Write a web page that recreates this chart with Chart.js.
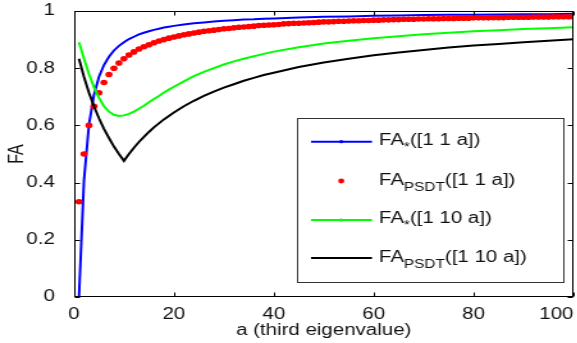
<!DOCTYPE html>
<html lang="en">
<head>
    <meta charset="utf-8">
    <title>FA vs third eigenvalue</title>
    <script src="https://cdn.jsdelivr.net/npm/chart.js"></script>
    <style>
        body { margin: 0; overflow: hidden; background: #fff; }
        /* the source figure is stretched sideways, so the whole canvas is too */
        #wrap { width: 452px; height: 343px; transform: scaleX(1.28); transform-origin: 0 0; }
    </style>
</head>
<body>
<div id="wrap">
    <canvas id="faChart" width="452" height="343"></canvas>
</div>

<script>
    // a values for the red point series (one per integer)
    const aPoints = [1, 2, 3, 4, 5, 6, 7, 8, 9, 10, 11, 12, 13, 14, 15, 16, 17, 18, 19, 20,
        21, 22, 23, 24, 25, 26, 27, 28, 29, 30, 31, 32, 33, 34, 35, 36, 37, 38, 39, 40,
        41, 42, 43, 44, 45, 46, 47, 48, 49, 50, 51, 52, 53, 54, 55, 56, 57, 58, 59, 60,
        61, 62, 63, 64, 65, 66, 67, 68, 69, 70, 71, 72, 73, 74, 75, 76, 77, 78, 79, 80,
        81, 82, 83, 84, 85, 86, 87, 88, 89, 90, 91, 92, 93, 94, 95, 96, 97, 98, 99, 100]
    const faPsdt11 = [0.333, 0.5, 0.6, 0.667, 0.714, 0.75, 0.778, 0.8, 0.818, 0.833,
        0.846, 0.857, 0.867, 0.875, 0.882, 0.889, 0.895, 0.9, 0.905, 0.909,
        0.913, 0.917, 0.92, 0.923, 0.926, 0.929, 0.931, 0.933, 0.935, 0.938,
        0.939, 0.941, 0.943, 0.944, 0.946, 0.947, 0.949, 0.95, 0.951, 0.952,
        0.953, 0.955, 0.956, 0.957, 0.957, 0.958, 0.959, 0.96, 0.961, 0.962,
        0.962, 0.963, 0.964, 0.964, 0.965, 0.966, 0.966, 0.967, 0.967, 0.968,
        0.968, 0.969, 0.969, 0.97, 0.97, 0.971, 0.971, 0.971, 0.972, 0.972,
        0.973, 0.973, 0.973, 0.974, 0.974, 0.974, 0.975, 0.975, 0.975, 0.976,
        0.976, 0.976, 0.976, 0.977, 0.977, 0.977, 0.978, 0.978, 0.978, 0.978,
        0.978, 0.979, 0.979, 0.979, 0.979, 0.98, 0.98, 0.98, 0.98, 0.98]

    // a values for the three solid lines
    const aLines = [1, 2, 3, 4, 5, 6, 7, 8, 9, 10, 11, 12, 13, 14, 15, 16, 17, 18, 19, 20,
        22, 24, 26, 28, 30, 32, 34, 36, 38, 40,
        45, 50, 55, 60, 65, 70, 75, 80, 85, 90, 95, 100]
    const faStar11 = [0, 0.408, 0.603, 0.707, 0.77, 0.811, 0.84, 0.862, 0.878, 0.891,
        0.902, 0.91, 0.918, 0.924, 0.929, 0.934, 0.938, 0.942, 0.945, 0.948,
        0.953, 0.957, 0.96, 0.963, 0.966, 0.968, 0.97, 0.971, 0.973, 0.974,
        0.977, 0.98, 0.981, 0.983, 0.984, 0.986, 0.987, 0.987, 0.988, 0.989, 0.989, 0.99]
    const faStar110 = [0.891, 0.834, 0.78, 0.734, 0.696, 0.667, 0.648, 0.637, 0.633, 0.635,
        0.64, 0.648, 0.658, 0.669, 0.681, 0.692, 0.703, 0.715, 0.725, 0.735,
        0.754, 0.772, 0.787, 0.8, 0.813, 0.824, 0.833, 0.842, 0.85, 0.858,
        0.873, 0.886, 0.896, 0.905, 0.912, 0.919, 0.924, 0.929, 0.933, 0.937, 0.94, 0.943]
    const faPsdt110 = [0.833, 0.769, 0.714, 0.667, 0.625, 0.588, 0.556, 0.526, 0.5, 0.476,
        0.5, 0.522, 0.542, 0.56, 0.577, 0.593, 0.607, 0.621, 0.633, 0.645,
        0.667, 0.686, 0.703, 0.718, 0.732, 0.744, 0.756, 0.766, 0.776, 0.784,
        0.804, 0.82, 0.833, 0.845, 0.855, 0.864, 0.872, 0.879, 0.885, 0.891, 0.896, 0.901]

    const xTicks = [0, 20, 40, 60, 80, 100]
    const yTicks = [0, 0.2, 0.4, 0.6, 0.8, 1]
    const legendSubs = ['*', 'PSDT', '*', 'PSDT']
    const legendArgs = ['([1 1 a])', '([1 1 a])', '([1 10 a])', '([1 10 a])']
    const seriesColors = ['#0000ff', '#ff0000', '#00ff00', '#000000']

    const FONT = '"Liberation Sans", Arial, sans-serif'
    Chart.defaults.font.family = FONT
    Chart.defaults.font.size = 16
    Chart.defaults.color = '#111'

    function pairs(xs, ys) {
        return xs.map((x, i) => ({x: x, y: ys[i]}))
    }

    // box, inward ticks on all four sides, and the legend
    const matlabFrame = {
        id: 'matlabFrame',
        afterDraw(chart) {
            const ctx = chart.ctx
            const area = chart.chartArea
            const xs = chart.scales.x
            const ys = chart.scales.y
            const L = Math.round(area.left) + 0.5, R = Math.round(area.right) - 0.5
            const T = Math.round(area.top) + 0.5, B = Math.round(area.bottom) - 0.5
            ctx.save()
            ctx.strokeStyle = '#000'
            ctx.lineWidth = 1
            ctx.strokeRect(L, T, R - L, B - T)
            ctx.beginPath()
            xTicks.forEach(v => {
                const px = Math.round(xs.getPixelForValue(v)) + 0.5
                ctx.moveTo(px, B); ctx.lineTo(px, B - 4)
                ctx.moveTo(px, T); ctx.lineTo(px, T + 4)
            })
            yTicks.forEach(v => {
                const py = Math.round(ys.getPixelForValue(v)) + 0.5
                ctx.moveTo(L, py); ctx.lineTo(L + 4, py)
                ctx.moveTo(R, py); ctx.lineTo(R - 4, py)
            })
            ctx.stroke()

            // legend
            ctx.fillStyle = '#fff'
            ctx.fillRect(233, 119, 208, 164)
            ctx.strokeStyle = '#333'
            ctx.strokeRect(232.5, 118.5, 208, 164)
            const lineY = [141.7, 181, 220, 258]
            const textY = [145, 184.5, 222.5, 261.5]
            for (let i = 0; i < 4; i++) {
                const c = seriesColors[i]
                if (i !== 1) {
                    ctx.strokeStyle = c
                    ctx.lineWidth = 2
                    ctx.beginPath()
                    ctx.moveTo(243, lineY[i]); ctx.lineTo(290.6, lineY[i])
                    ctx.stroke()
                }
                if (i !== 3) {
                    ctx.fillStyle = c
                    ctx.beginPath()
                    ctx.arc(266.6, lineY[i], i === 1 ? 2.4 : 1.6, 0, Math.PI * 2)
                    ctx.fill()
                }
                ctx.fillStyle = '#111'
                ctx.textBaseline = 'alphabetic'
                ctx.textAlign = 'left'
                let x = 296
                ctx.font = '16px ' + FONT
                ctx.fillText('FA', x, textY[i])
                x += ctx.measureText('FA').width
                ctx.font = '12px ' + FONT
                ctx.fillText(legendSubs[i], x, textY[i] + 6)
                x += ctx.measureText(legendSubs[i]).width
                ctx.font = '16px ' + FONT
                ctx.fillText(legendArgs[i], x, textY[i])
            }
            ctx.restore()
        }
    }

    new Chart(document.getElementById('faChart'), {
        type: 'line',
        data: {
            datasets: [{
                label: 'FA*([1 1 a])',
                data: pairs(aLines, faStar11),
                borderColor: seriesColors[0],
                borderWidth: 2,
                pointRadius: 0,
                order: 4
            }, {
                label: 'FA_PSDT([1 1 a])',
                data: pairs(aPoints, faPsdt11),
                showLine: false,
                pointStyle: 'circle',
                pointRadius: 2.8,
                pointBorderWidth: 0,
                pointBackgroundColor: seriesColors[1],
                borderColor: seriesColors[1],
                order: 3
            }, {
                label: 'FA*([1 10 a])',
                data: pairs(aLines, faStar110),
                borderColor: seriesColors[2],
                borderWidth: 2,
                pointRadius: 0,
                order: 2
            }, {
                label: 'FA_PSDT([1 10 a])',
                data: pairs(aLines, faPsdt110),
                borderColor: seriesColors[3],
                borderWidth: 2,
                pointRadius: 0,
                order: 1
            }]
        },
        options: {
            responsive: false,
            animation: false,
            events: [],
            layout: {padding: {left: 0, top: 11, right: 2, bottom: 0}},
            plugins: {legend: {display: false}, tooltip: {enabled: false}},
            scales: {
                x: {
                    type: 'linear',
                    min: 0,
                    max: 100,
                    grid: {display: false},
                    border: {display: false},
                    ticks: {
                        stepSize: 20,
                        padding: 0,
                        // the last label sits left of its tick in the source
                        callback: v => v === 100 ? '100\u2007\u2007\u2007' : String(v)
                    },
                    title: {display: true, text: 'a (third eigenvalue)', padding: {top: 0, bottom: 3}},
                    afterFit(scale) {
                        scale.height = 46
                        scale.paddingLeft = 0
                        scale.paddingRight = 0
                    }
                },
                y: {
                    min: 0,
                    max: 1,
                    grid: {display: false},
                    border: {display: false},
                    ticks: {
                        stepSize: 0.2,
                        padding: 7,
                        callback: v => (v === 0 || v === 1) ? String(v) : v.toFixed(1)
                    },
                    title: {display: true, text: 'FA', padding: {top: 4, bottom: 0}},
                    afterFit(scale) {
                        scale.width = 57.8
                        scale.paddingTop = 0
                        scale.paddingBottom = 0
                    }
                }
            }
        },
        plugins: [matlabFrame]
    })
</script>
</body>
</html>
